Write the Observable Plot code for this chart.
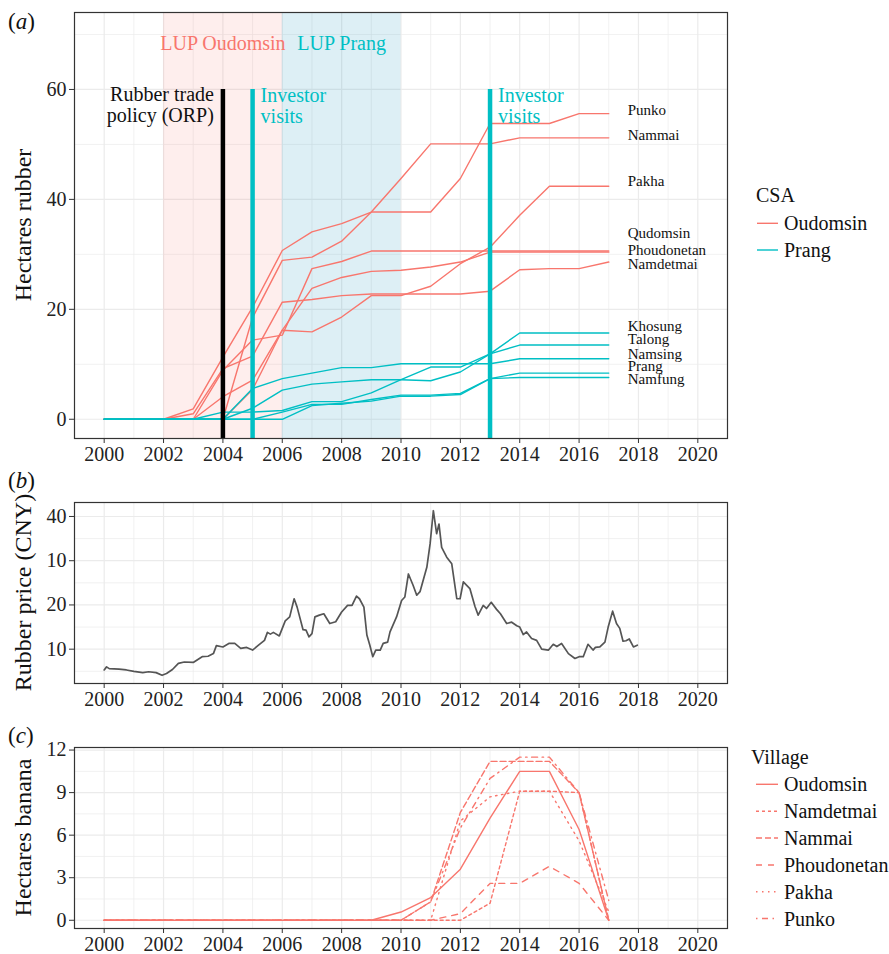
<!DOCTYPE html>
<html><head><meta charset="utf-8">
<script src="https://cdn.jsdelivr.net/npm/d3@7"></script>
<script src="https://cdn.jsdelivr.net/npm/@observablehq/plot@0.6"></script>
<style>
body{margin:0;background:#fff;}
#root{position:relative;width:889px;height:954px;overflow:hidden;background:#fff;font-family:'Liberation Serif',serif;}
svg text{font-family:'Liberation Serif',serif;}
</style></head><body><div id="root"></div>
<script>
// ---------- data ----------
const years = [2000,2001,2002,2003,2004,2005,2006,2007,2008,2009,2010,2011,2012,2013,2014,2015,2016,2017];

// (a) hectares rubber per village
const rubberOudomsinVillages = ["Punko","Nammai","Pakha","Qudomsin","Phoudonetan","Namdetmai"];
const rubberPrangVillages = ["Khosung","Talong","Namsing","Prang","Namfung"];
const rubberPunko       = [0,0,0,1.9,11.3,20.4,30.7,34.1,35.6,37.7,37.7,37.7,43.8,53.8,53.8,53.8,55.6,55.6];
const rubberNammai      = [0,0,0,0,0,18.5,28.9,29.5,32.4,37.7,43.8,50.1,50.1,50.1,51.2,51.2,51.2,51.2];
const rubberPakha       = [0,0,0,0,4.1,7.1,16.2,15.9,18.6,22.5,22.5,24.2,28.3,31.3,37.1,42.4,42.4,42.4];
const rubberQudomsin    = [0,0,0,0,0,5.4,16.2,23.8,25.8,26.9,27.1,27.7,28.6,30.4,30.4,30.4,30.4,30.4];
const rubberPhoudonetan = [0,0,0,0,8.9,14.4,15.3,27.4,28.7,30.6,30.6,30.6,30.6,30.6,30.6,30.6,30.6,30.6];
const rubberNamdetmai   = [0,0,0,1.0,9.2,11.5,21.3,21.8,22.5,22.8,22.8,22.8,22.8,23.3,27.2,27.4,27.4,28.6];
const rubberKhosung     = [0,0,0,0,0,2.0,5.3,6.4,6.8,7.2,7.2,7.0,8.6,11.9,15.7,15.7,15.7,15.7];
const rubberTalong      = [0,0,0,0,1.3,1.3,1.6,3.2,3.2,4.8,7.2,9.5,9.5,11.9,13.5,13.5,13.5,13.5];
const rubberNamsing     = [0,0,0,0,0,5.6,7.4,8.4,9.4,9.4,10.1,10.1,10.1,10.1,11.0,11.0,11.0,11.0];
const rubberPrang       = [0,0,0,0,0,0,1.3,2.7,2.7,3.6,4.4,4.4,4.7,7.4,8.4,8.4,8.4,8.4];
const rubberNamfung     = [0,0,0,0,0,0,0,2.5,2.9,3.3,4.2,4.2,4.5,7.4,7.6,7.6,7.6,7.6];

// village labels at the right end of panel (a)
const villageLabels = ["Punko","Nammai","Pakha","Qudomsin","Phoudonetan","Namdetmai","Khosung","Talong","Namsing","Prang","Namfung"];
const villageLabelY = [56.2,51.6,43.4,33.9,30.7,28.3,17.0,14.5,11.8,9.6,7.3];

// LUP periods and events
const lupLabels = ["LUP Oudomsin","LUP Prang"];
const lupStart = [2002, 2006];
const lupEnd = [2006, 2010];
const eventYears = [2004, 2005, 2013];
const eventLabels = ["Rubber trade\npolicy (ORP)", "Investor\nvisits", "Investor\nvisits"];
const eventTop = 60;

// (b) rubber price
const priceTime = [2000.00,2000.08,2000.17,2000.5,2000.75,2001.0,2001.3,2001.5,2001.75,2001.95,2002.1,2002.3,2002.5,2002.7,2003.0,2003.3,2003.5,2003.68,2003.78,2004.0,2004.2,2004.4,2004.6,2004.8,2005.0,2005.2,2005.4,2005.5,2005.6,2005.7,2005.9,2006.0,2006.1,2006.25,2006.4,2006.5,2006.7,2006.8,2006.9,2007.0,2007.1,2007.25,2007.4,2007.6,2007.8,2008.0,2008.2,2008.35,2008.5,2008.6,2008.75,2008.85,2008.95,2009.05,2009.15,2009.3,2009.4,2009.55,2009.63,2009.85,2010.02,2010.13,2010.25,2010.41,2010.53,2010.64,2010.87,2010.98,2011.09,2011.2,2011.28,2011.37,2011.54,2011.71,2011.88,2011.99,2012.1,2012.32,2012.49,2012.6,2012.77,2012.88,2013.04,2013.22,2013.35,2013.56,2013.73,2013.9,2014.0,2014.12,2014.23,2014.4,2014.57,2014.74,2014.97,2015.13,2015.25,2015.41,2015.64,2015.86,2016.0,2016.14,2016.3,2016.47,2016.55,2016.7,2016.87,2016.98,2017.13,2017.26,2017.37,2017.48,2017.58,2017.69,2017.83,2017.96];
const priceValue = [5.3,6.0,5.6,5.5,5.3,5.0,4.7,4.9,4.7,4.1,4.5,5.4,6.8,7.1,7.0,8.3,8.4,9.0,10.8,10.5,11.3,11.3,10.2,10.4,9.8,10.9,12.0,13.8,13.4,13.8,13.0,14.7,16.4,17.3,21.4,19.5,14.4,14.3,12.8,13.5,17.3,17.7,18.0,15.8,16.2,18.4,19.9,19.9,22.0,21.4,19.5,13.2,10.9,8.3,9.8,9.8,11.3,11.6,13.9,17.3,21.0,21.8,27.0,24.4,22.2,23.0,28.5,33.8,41.3,36.1,38.3,33.0,30.8,29.3,21.4,21.4,25.2,23.7,19.7,17.7,19.9,19.2,20.6,19.0,18.0,15.8,16.1,15.3,15.0,13.3,13.9,12.4,12.0,10.0,9.8,11.1,10.6,11.3,9.0,7.9,8.3,8.3,11.1,9.8,10.4,10.5,11.6,15.0,18.6,15.8,14.7,11.8,11.9,12.3,10.5,10.9];
const priceTicks = [10,20,30,40];
const priceTickLabels = ["10","20","10","40"];

// (c) hectares banana
const bananaVillages = ["Oudomsin","Namdetmai","Nammai","Phoudonetan","Pakha","Punko"];
const bananaOudomsin    = [0,0,0,0,0,0,0,0,0,0,0.58,1.6,3.6,7.2,10.5,10.5,6.4,0];
const bananaNamdetmai   = [0,0,0,0,0,0,0,0,0,0,0,0,0,1.2,9.1,9.1,9.0,0];
const bananaNammai      = [0,0,0,0,0,0,0,0,0,0,0,1.3,7.6,11.2,11.2,11.2,9.0,0];
const bananaPhoudonetan = [0,0,0,0,0,0,0,0,0,0,0,0,0.47,2.6,2.6,3.8,2.6,0];
const bananaPakha       = [0,0,0,0,0,0,0,0,0,0,0,0,7.0,8.7,9.1,9.1,5.6,0.6];
const bananaPunko       = [0,0,0,0,0,0,0,0,0,0,0,1.3,6.5,10.0,11.5,11.5,9.0,1.4];

const majorYears = [2000,2002,2004,2006,2008,2010,2012,2014,2016,2018,2020];
const minorYears = [2001,2003,2005,2007,2009,2011,2013,2015,2017,2019];

// ---------- styling ----------
const FONT = "Liberation Serif, serif";
const RED = "#F8766D", TEAL = "#00BFC4", SHADE_TEAL = "#2E9CC0", GRID = "#ebebeb", DARK = "#333";
const dashes = {Oudomsin:null, Namdetmai:"3,3", Nammai:"6,3", Phoudonetan:"6,6", Pakha:"1.5,4.5", Punko:"1.5,4.5,6,4.5"};
const xDomain = [1999, 2021];

// ---------- build rows ----------
const rubberSeries = {Punko:rubberPunko,Nammai:rubberNammai,Pakha:rubberPakha,Qudomsin:rubberQudomsin,Phoudonetan:rubberPhoudonetan,Namdetmai:rubberNamdetmai,Khosung:rubberKhosung,Talong:rubberTalong,Namsing:rubberNamsing,Prang:rubberPrang,Namfung:rubberNamfung};
const rowsFor = (names, series) => names.flatMap(v => series[v].map((val,i)=>({village:v, year:years[i], value:val})));
const redRows = rowsFor(rubberOudomsinVillages, rubberSeries);
const tealRows = rowsFor(rubberPrangVillages, rubberSeries);
const labelRows = villageLabels.map((n,i)=>({name:n, y:villageLabelY[i], year:years[years.length-1]}));
const lupRows = lupLabels.map((l,i)=>({label:l, start:lupStart[i], end:lupEnd[i], mid:(lupStart[i]+lupEnd[i])/2}));
const eventRows = eventYears.map((y,i)=>({year:y, label:eventLabels[i]}));
const priceRows = priceTime.map((t,i)=>({t, v:priceValue[i]}));
const bananaSeries = {Oudomsin:bananaOudomsin,Namdetmai:bananaNamdetmai,Nammai:bananaNammai,Phoudonetan:bananaPhoudonetan,Pakha:bananaPakha,Punko:bananaPunko};
const priceLabelMap = new Map(priceTicks.map((t,i)=>[t, priceTickLabels[i]]));

function panel({height, marginTop, marginBottom, yDomain, yTicks, yMinor, yFormat, marks}) {
  return Plot.plot({
    width: 889, height, marginLeft: 74, marginRight: 162, marginTop, marginBottom,
    x: {domain: xDomain},
    y: {domain: yDomain},
    style: {fontFamily: FONT, fontSize: "20px", color: "#222", background: "transparent", overflow: "visible"},
    marks: [
      Plot.ruleX(minorYears, {stroke: GRID, strokeWidth: 0.7}),
      Plot.ruleY(yMinor, {stroke: GRID, strokeWidth: 0.7}),
      Plot.ruleX(majorYears, {stroke: GRID, strokeWidth: 1.2}),
      Plot.ruleY(yTicks, {stroke: GRID, strokeWidth: 1.2}),
      ...marks,
      Plot.frame({stroke: DARK, strokeWidth: 1.2}),
      Plot.axisX({ticks: majorYears, tickFormat: "d", tickSize: 5, tickPadding: 3, label: null, fontSize: 20, fontFamily: FONT, stroke: DARK}),
      Plot.axisY({ticks: yTicks, tickFormat: yFormat, tickSize: 5, tickPadding: 3, label: null, fontSize: 20, fontFamily: FONT, stroke: DARK})
    ]
  });
}

const yA = [-3.5, 74];
const plotA = panel({
  height: 470, marginTop: 12, marginBottom: 32, yDomain: yA,
  yTicks: [0,20,40,60], yMinor: [10,30,50,70], yFormat: "d",
  marks: [
    Plot.rect(lupRows.filter((d,i)=>i===0), {x1:"start", x2:"end", y1:yA[0], y2:yA[1], fill: RED, fillOpacity: 0.12}),
    Plot.rect(lupRows.filter((d,i)=>i===1), {x1:"start", x2:"end", y1:yA[0], y2:yA[1], fill: SHADE_TEAL, fillOpacity: 0.16}),
    Plot.line(redRows, {x:"year", y:"value", z:"village", stroke: RED, strokeWidth: 1.4}),
    Plot.line(tealRows, {x:"year", y:"value", z:"village", stroke: TEAL, strokeWidth: 1.4}),
    Plot.ruleX(eventRows.filter((d,i)=>i===0), {x:"year", y1: eventTop, y2: yA[0], stroke:"#000", strokeWidth: 4.5}),
    Plot.ruleX(eventRows.filter((d,i)=>i>0), {x:"year", y1: eventTop, y2: yA[0], stroke: TEAL, strokeWidth: 4.5}),
    Plot.text(eventRows.filter((d,i)=>i===0), {x:"year", y: eventTop, text:"label", textAnchor:"end", lineAnchor:"top", dx:-9, dy:-4, fill:"#111", fontSize:20, fontFamily: FONT, lineHeight:1.08}),
    Plot.text(eventRows.filter((d,i)=>i>0), {x:"year", y: eventTop, text:"label", textAnchor:"start", lineAnchor:"top", dx:8, dy:-3, fill: TEAL, fontSize:20, fontFamily: FONT, lineHeight:1.08}),
    Plot.text(lupRows.filter((d,i)=>i===0), {x:"mid", y: 68.3, text:"label", fill: RED, fontSize:20, fontFamily: FONT}),
    Plot.text(lupRows.filter((d,i)=>i===1), {x:"mid", y: 68.3, text:"label", fill: TEAL, fontSize:20, fontFamily: FONT}),
    Plot.text(labelRows, {x:"year", y:"y", text:"name", textAnchor:"start", dx: 19, fill:"#111", fontSize:15, fontFamily: FONT})
  ]
});

const plotB = panel({
  height: 243, marginTop: 32, marginBottom: 30, yDomain: [2.24, 43.16],
  yTicks: priceTicks, yMinor: [5,15,25,35], yFormat: d => priceLabelMap.get(d),
  marks: [
    Plot.line(priceRows, {x:"t", y:"v", stroke:"#555", strokeWidth: 1.7})
  ]
});

const plotC = panel({
  height: 241, marginTop: 34, marginBottom: 26, yDomain: [-0.58, 12.18],
  yTicks: [0,3,6,9,12], yMinor: [1.5,4.5,7.5,10.5], yFormat: "d",
  marks: bananaVillages.map(v => Plot.line(bananaSeries[v].map((val,i)=>({year:years[i], value:val})),
    {x:"year", y:"value", stroke: RED, strokeWidth: 1.4, strokeDasharray: dashes[v] || undefined}))
});

const root = document.getElementById("root");
function place(node, top){ node.style.position="absolute"; node.style.left="0px"; node.style.top=top+"px"; root.appendChild(node); }
place(plotA, 0);
place(plotB, 470);
place(plotC, 713);

// ---------- overlay: panel letters, axis titles, legends ----------
const ov = d3.select(root).append("svg")
  .attr("width", 889).attr("height", 954)
  .style("position","absolute").style("left","0px").style("top","0px")
  .style("pointer-events","none").style("overflow","visible");
const txt = (sel) => sel.append("text").attr("font-family", FONT).attr("fill", "#111");

[["a",29],["b",488],["c",743]].forEach(([l,y]) => {
  const t = txt(ov).attr("x", 8).attr("y", y).attr("font-size", 23);
  t.append("tspan").text("(");
  t.append("tspan").attr("font-style","italic").text(l);
  t.append("tspan").text(")");
});

[["Hectares rubber",225],["Rubber price (CNY)",592.5],["Hectares banana",837.5]].forEach(([s,cy]) => {
  txt(ov).attr("transform",`translate(31,${cy}) rotate(-90)`).attr("text-anchor","middle")
    .attr("font-size",24).text(s);
});

// CSA legend
txt(ov).attr("x",756).attr("y",195).attr("dominant-baseline","central").attr("font-size",20).text("CSA");
[["Oudomsin",RED,223.3],["Prang",TEAL,250]].forEach(([s,c,y]) => {
  ov.append("line").attr("x1",757).attr("x2",778).attr("y1",y).attr("y2",y).attr("stroke",c).attr("stroke-width",1.4);
  txt(ov).attr("x",784).attr("y",y).attr("dominant-baseline","central").attr("font-size",20).text(s);
});

// Village legend
txt(ov).attr("x",751).attr("y",757).attr("dominant-baseline","central").attr("font-size",20).text("Village");
const legY = [784.3, 811.3, 838, 865, 891.8, 918.5];
bananaVillages.forEach((v,i) => {
  const ln = ov.append("line").attr("x1",756).attr("x2",778).attr("y1",legY[i]).attr("y2",legY[i]).attr("stroke",RED).attr("stroke-width",1.4);
  if (dashes[v]) ln.attr("stroke-dasharray", dashes[v]);
  txt(ov).attr("x",784).attr("y",legY[i]).attr("dominant-baseline","central").attr("font-size",20).text(v);
});
</script></body></html>
